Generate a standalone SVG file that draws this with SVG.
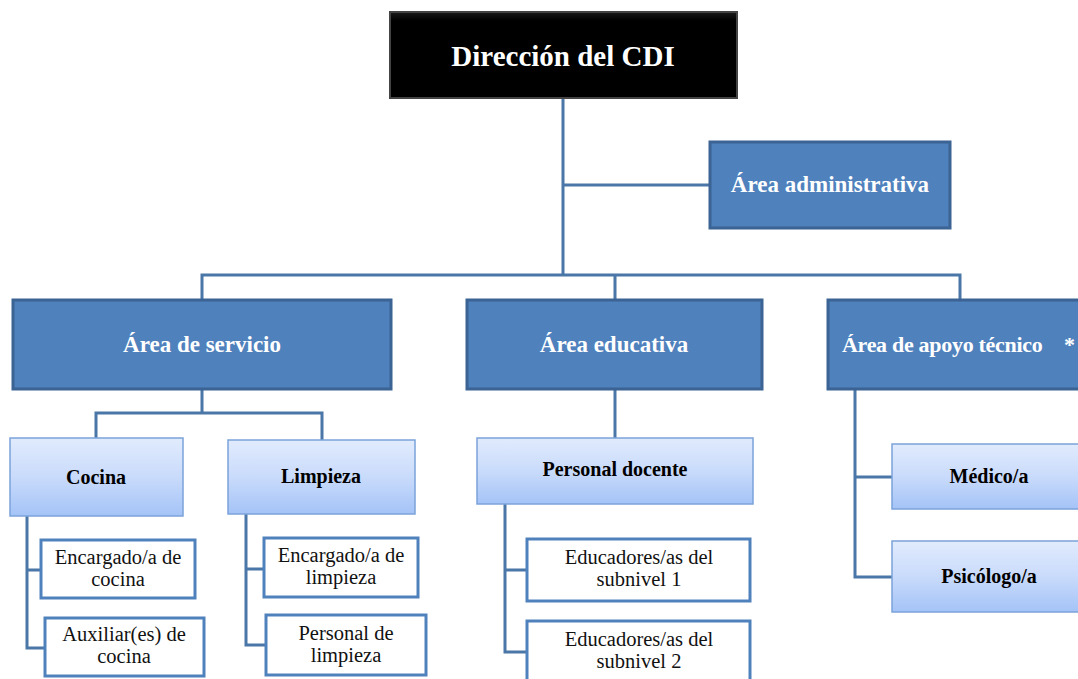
<svg xmlns="http://www.w3.org/2000/svg" width="1078" height="679" viewBox="0 0 1078 679">
<defs>
<linearGradient id="lg" x1="0" y1="0" x2="0" y2="1">
<stop offset="0" stop-color="#E1EBFD"/>
<stop offset="0.5" stop-color="#C9DBFB"/>
<stop offset="1" stop-color="#A4C3F7"/>
</linearGradient>
<linearGradient id="bk" x1="0" y1="0" x2="0" y2="1">
<stop offset="0" stop-color="#1a1a1a"/>
<stop offset="0.1" stop-color="#000"/>
<stop offset="1" stop-color="#000"/>
</linearGradient>
<style>
.con{fill:none;stroke:#4A76A8;stroke-width:3;}
.mid{fill:#4F81BD;stroke:#3B6393;stroke-width:3;}
.lt{fill:url(#lg);stroke:#7BA3D9;stroke-width:1.5;}
.wt{fill:#fff;stroke:#4F81BD;stroke-width:3;}
.tw{font-family:"Liberation Serif","Times New Roman",serif;font-weight:bold;fill:#fff;text-anchor:middle;font-size:23px;}
.tb{font-family:"Liberation Serif","Times New Roman",serif;font-weight:bold;fill:#000;text-anchor:middle;font-size:20px;}
.tr{font-family:"Liberation Serif","Times New Roman",serif;fill:#111;text-anchor:middle;font-size:20.5px;}
</style>
</defs>
<rect width="1078" height="679" fill="#fff"/>
<g id="connectors">
<path class="con" d="M563 98V275M563 185H710M202 300V275H960V300M615 275V300"/>
<path class="con" d="M202 389V413M96 438V413H322V440"/>
<path class="con" d="M27 516V648H45M27 570H41"/>
<path class="con" d="M246 514V645H266M246 569H264"/>
<path class="con" d="M615 389V438"/>
<path class="con" d="M505 504V652H527M505 570H527"/>
<path class="con" d="M855 389V577H892M855 477H892"/>
</g>
<g id="direccion">
<rect x="390" y="12" width="347" height="86" fill="url(#bk)" stroke="#444" stroke-width="2"/>
<text class="tw" x="563" y="66" style="font-size:29px">Dirección del CDI</text>
</g>
<g id="admin">
<rect class="mid" x="710" y="142" width="240" height="86"/>
<text class="tw" x="830" y="192">Área administrativa</text>
</g>
<g id="servicio">
<rect class="mid" x="13" y="300" width="378" height="89"/>
<text class="tw" x="202" y="352">Área de servicio</text>
</g>
<g id="educativa">
<rect class="mid" x="467" y="300" width="295" height="89"/>
<text class="tw" x="614" y="352">Área educativa</text>
</g>
<g id="apoyo">
<rect class="mid" x="828" y="300" width="260" height="89"/>
<text class="tw" x="842" y="352" style="text-anchor:start;font-size:22px;letter-spacing:-0.3px">Área de apoyo técnico <tspan x="1064">*</tspan></text>
</g>
<g id="cocina">
<rect class="lt" x="10" y="438" width="173" height="78"/>
<text class="tb" x="96" y="484">Cocina</text>
</g>
<g id="limpieza">
<rect class="lt" x="228" y="440" width="187" height="74"/>
<text class="tb" x="321" y="483">Limpieza</text>
</g>
<g id="enc-cocina">
<rect class="wt" x="41" y="540" width="154" height="58"/>
<text class="tr" x="118" y="564">Encargado/a de</text>
<text class="tr" x="118" y="586">cocina</text>
</g>
<g id="aux-cocina">
<rect class="wt" x="45" y="618" width="159" height="58"/>
<text class="tr" x="124" y="641">Auxiliar(es) de</text>
<text class="tr" x="124" y="663">cocina</text>
</g>
<g id="enc-limpieza">
<rect class="wt" x="264" y="538" width="154" height="59"/>
<text class="tr" x="341" y="562">Encargado/a de</text>
<text class="tr" x="341" y="584">limpieza</text>
</g>
<g id="pers-limpieza">
<rect class="wt" x="266" y="615" width="160" height="60"/>
<text class="tr" x="346" y="640">Personal de</text>
<text class="tr" x="346" y="662">limpieza</text>
</g>
<g id="docente">
<rect class="lt" x="477" y="438" width="276" height="66"/>
<text class="tb" x="615" y="476">Personal docente</text>
</g>
<g id="sub1">
<rect class="wt" x="527" y="539" width="223" height="62"/>
<text class="tr" x="639" y="564">Educadores/as del</text>
<text class="tr" x="639" y="586">subnivel 1</text>
</g>
<g id="sub2">
<rect class="wt" x="527" y="621" width="223" height="70"/>
<text class="tr" x="639" y="646">Educadores/as del</text>
<text class="tr" x="639" y="668">subnivel 2</text>
</g>
<g id="medico">
<rect class="lt" x="892" y="444" width="200" height="65"/>
<text class="tb" x="989" y="483">Médico/a</text>
</g>
<g id="psicologo">
<rect class="lt" x="892" y="541" width="200" height="71"/>
<text class="tb" x="989" y="583">Psicólogo/a</text>
</g>
</svg>
